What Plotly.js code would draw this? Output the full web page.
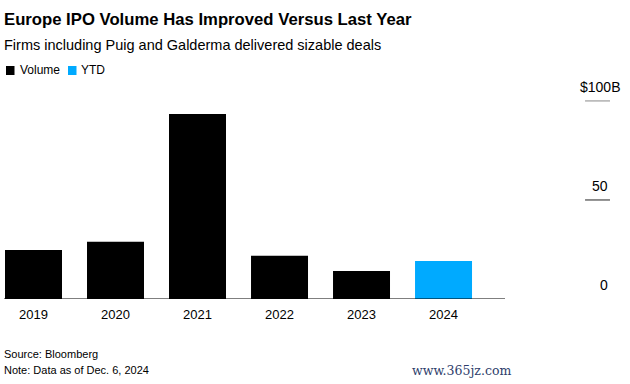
<!DOCTYPE html>
<html><head><meta charset="utf-8">
<script src="https://cdn.plot.ly/plotly-3.0.1.min.js"></script>
<style>html,body{margin:0;padding:0;background:#fff}#c{width:630px;height:384px}</style>
</head><body><div id="c"></div>
<script>
const years = ["2019","2020","2021","2022","2023","2024"];
const volumeYears = ["2019","2020","2021","2022","2023"];
const volumeValues = [24.7, 28.9, 93.4, 21.9, 14.1];
const ytdYears = ["2024"];
const ytdValues = [19.2];
const yTicks = [0, 50, 100];
const yTickLabels = ["0", "50", "$100B"];
const seriesNames = ["Volume", "YTD"];
const colors = ["#000000", "#00aaff"];

const F = "Liberation Sans, Arial, sans-serif";
const idx = y => years.indexOf(y);

const traces = [
  {type:"bar", name:seriesNames[0], x:volumeYears.map(idx), y:volumeValues, width:0.695,
   marker:{color:colors[0]}, hoverinfo:"skip"},
  {type:"bar", name:seriesNames[1], x:ytdYears.map(idx), y:ytdValues, width:0.695,
   marker:{color:colors[1]}, hoverinfo:"skip"}
];

const shapes = [
  {type:"line", xref:"x", yref:"y", x0:-0.36, x1:5.75, y0:0, y1:0, line:{color:"#000", width:1.2}}
];
const annotations = [];
yTicks.forEach((v,i) => {
  if (v > 0) shapes.push({type:"line", xref:"x", yref:"y", x0:6.726, x1:7.03, y0:v, y1:v,
    line:{color: v===100 ? "#888" : "#222", width:1}});
  annotations.push({xref:"x", yref:"y", x: v===100 ? 7.177 : 7.03, y:v, yshift:14, xanchor:"right", yanchor:"middle",
    text:yTickLabels[i], showarrow:false, font:{family:F, size:14, color:"#000"}});
});
years.forEach((y,i) => annotations.push({xref:"x", yref:"paper", x:i, y:0, yshift:-15, yanchor:"middle",
  text:y, showarrow:false, font:{family:F, size:13, color:"#000"}}));

// title, subtitle, legend, footer
annotations.push({xref:"paper", yref:"paper", x:0, y:1, xanchor:"left", yanchor:"middle", xshift:2, yshift:95-19,
  text:"<b>Europe IPO Volume Has Improved Versus Last Year</b>", showarrow:false, font:{family:F, size:16.7, color:"#000"}});
annotations.push({xref:"paper", yref:"paper", x:0, y:1, xanchor:"left", yanchor:"middle", xshift:2, yshift:95-45,
  text:"Firms including Puig and Galderma delivered sizable deals", showarrow:false, font:{family:F, size:14.5, color:"#000"}});
shapes.push({type:"rect", xref:"paper", yref:"paper", x0:6/630, x1:14.5/630, y0:1+(95-75)/204, y1:1+(95-66)/204, line:{width:0}, fillcolor:colors[0]});
shapes.push({type:"rect", xref:"paper", yref:"paper", x0:68/630, x1:76.5/630, y0:1+(95-75)/204, y1:1+(95-66)/204, line:{width:0}, fillcolor:colors[1]});
annotations.push({xref:"paper", yref:"paper", x:18/630, y:1, xanchor:"left", yanchor:"middle", yshift:95-70,
  text:seriesNames[0], showarrow:false, font:{family:F, size:12, color:"#000"}});
annotations.push({xref:"paper", yref:"paper", x:79/630, y:1, xanchor:"left", yanchor:"middle", yshift:95-70,
  text:seriesNames[1], showarrow:false, font:{family:F, size:12, color:"#000"}});
annotations.push({xref:"paper", yref:"paper", x:0, y:0, xanchor:"left", yanchor:"middle", xshift:2, yshift:299-354,
  text:"Source: Bloomberg", showarrow:false, font:{family:F, size:11, color:"#000"}});
annotations.push({xref:"paper", yref:"paper", x:0, y:0, xanchor:"left", yanchor:"middle", xshift:2, yshift:299-370,
  text:"Note: Data as of Dec. 6, 2024", showarrow:false, font:{family:F, size:11, color:"#000"}});
annotations.push({xref:"paper", yref:"paper", x:513/630, y:0, xanchor:"right", yanchor:"middle", yshift:299-370,
  text:"www.365jz.com", showarrow:false, font:{family:"DejaVu Serif, Liberation Serif, serif", size:12.5, color:"#2e3d6b"}});

const layout = {
  width:630, height:384, margin:{l:0, r:0, t:95, b:85},
  paper_bgcolor:"#fff", plot_bgcolor:"#fff", showlegend:false, barmode:"overlay",
  xaxis:{range:[-0.4085, 7.274], showgrid:false, zeroline:false, showticklabels:false, ticks:"", showline:false, fixedrange:true},
  yaxis:{range:[0, 103], showgrid:false, zeroline:false, showticklabels:false, ticks:"", showline:false, fixedrange:true},
  shapes:shapes, annotations:annotations
};
Plotly.newPlot("c", traces, layout, {displayModeBar:false, staticPlot:true});
</script></body></html>
